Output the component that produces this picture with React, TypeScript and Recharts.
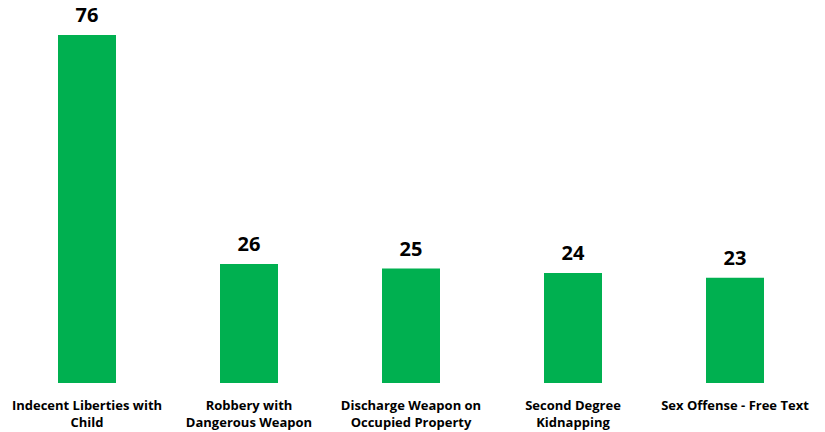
import { BarChart, Bar, XAxis, YAxis, LabelList } from 'recharts';

const categories = [
  'Indecent Liberties with\nChild',
  'Robbery with\nDangerous Weapon',
  'Discharge Weapon on\nOccupied Property',
  'Second Degree\nKidnapping',
  'Sex Offense - Free Text',
];
const counts = [76, 26, 25, 24, 23];

const data = categories.map((name, i) => ({ name, count: counts[i] }));

const FONT = '"Open Sans", "Liberation Sans", sans-serif';

function CategoryTick({ x, y, payload }: any) {
  const lines = String(payload.value).split('\n');
  return (
    <text x={x} y={y} textAnchor="middle" fontFamily={FONT} fontWeight={700} fontSize={13} fill="#000">
      {lines.map((line, i) => (
        <tspan key={i} x={x} dy={i === 0 ? 19 : 17}>
          {line}
        </tspan>
      ))}
    </text>
  );
}

function ValueLabel({ x, y, width, value }: any) {
  return (
    <text x={x + width / 2} y={y - 13} textAnchor="middle" fontFamily={FONT} fontWeight={700} fontSize={20} fill="#000">
      {value}
    </text>
  );
}

export default function App() {
  return (
    <div style={{ position: 'absolute', left: 0, top: 0, width: 825, height: 432, background: '#fff' }}>
      <BarChart width={825} height={432} data={data} margin={{ top: 35, right: 9, bottom: 0, left: 6 }} barCategoryGap={52}>
        <XAxis dataKey="name" axisLine={false} tickLine={false} height={49} tick={<CategoryTick />} interval={0} />
        <YAxis hide domain={[0, 76]} />
        <Bar dataKey="count" fill="#00B050" isAnimationActive={false}>
          <LabelList dataKey="count" content={<ValueLabel />} />
        </Bar>
      </BarChart>
    </div>
  );
}
